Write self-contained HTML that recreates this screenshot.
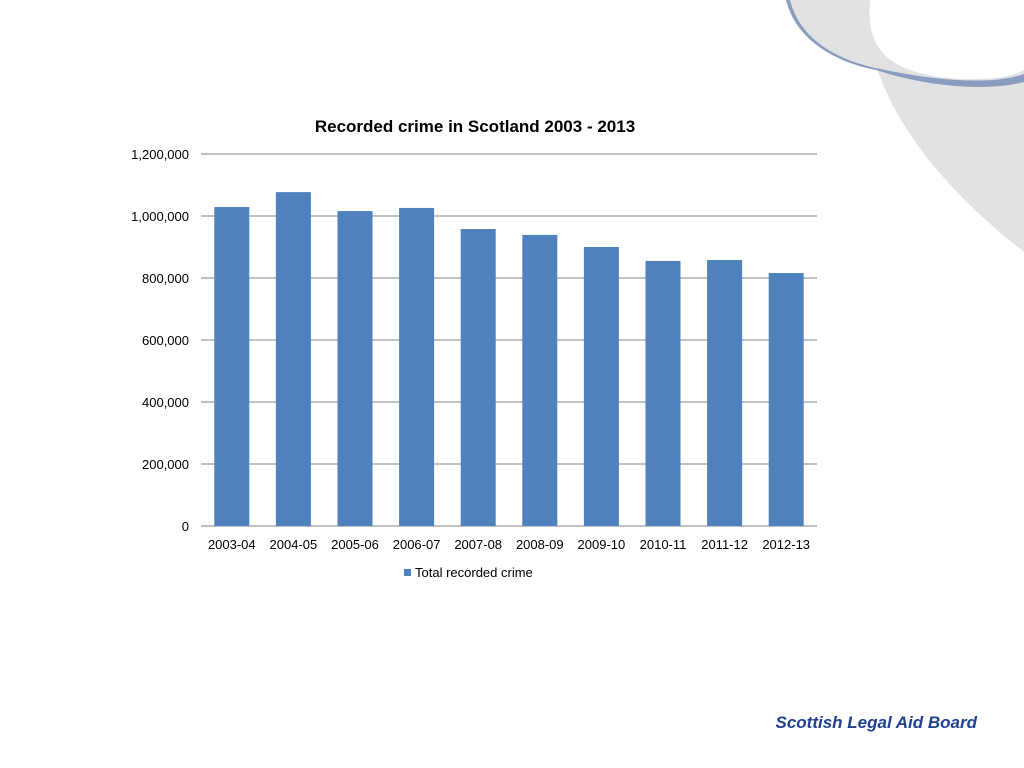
<!DOCTYPE html>
<html><head><meta charset="utf-8"><style>
body{margin:0;width:1024px;height:768px;background:#fff;overflow:hidden;font-family:"Liberation Sans",sans-serif;}
svg{position:absolute;left:0;top:0}
</style></head><body>
<svg width="1024" height="768">
<g>
<path d="M868,0 C862,85 925,175 1024,252 L1024,0 Z" fill="#e2e2e2"/>
<path d="M788,0 C800,42 840,62 878,68 L870,0 Z" fill="#e2e2e2"/>
<path d="M870,0 C866,48 885,74 960,79 Q1008,80 1024,70 L1024,0 Z" fill="#fff"/>
<path d="M790,0 C800,40 838,60 876,68 C930,80 990,86 1024,74 L1024,82 C985,92 925,86 876,70 C835,62 796,40 786,0 Z" fill="#8a9cbf"/>
</g>
<text x="475" y="132" text-anchor="middle" font-size="17" font-weight="bold" fill="#000">Recorded crime in Scotland 2003 - 2013</text>
<g id="grid"></g><g id="bars"></g><g id="xl"></g>
<g>
<rect x="404" y="569" width="7" height="7" fill="#4f81bd"/>
<text x="415" y="577" font-size="13" fill="#000">Total recorded crime</text>
</g>
<text x="977" y="728" text-anchor="end" font-size="17" font-weight="bold" font-style="italic" fill="#1f3f8f">Scottish Legal Aid Board</text>
</svg>
<script>
const categories=["2003-04","2004-05","2005-06","2006-07","2007-08","2008-09","2009-10","2010-11","2011-12","2012-13"];
const values=[1029000,1077000,1016000,1026000,958000,939000,900000,855000,858000,816000];
const ticks=[0,200000,400000,600000,800000,1000000,1200000];
const tickLabels=["0","200,000","400,000","600,000","800,000","1,000,000","1,200,000"];
const NS="http://www.w3.org/2000/svg";
const x0=201,x1=817,y0=526,yTop=154,maxV=1200000;
const y=v=>y0-(v/maxV)*(y0-yTop);
const bw=(x1-x0)/categories.length;
function mk(t,a,p){const e=document.createElementNS(NS,t);for(const k in a)e.setAttribute(k,a[k]);p.appendChild(e);return e;}
const g=document.getElementById('grid');
ticks.forEach((v,i)=>{
 const l=mk('line',{x1:x0,x2:x1,y1:y(v),y2:y(v),stroke:'#868686','stroke-width':1},g);
 
 
 const t=mk('text',{x:189,y:y(v)+5,'text-anchor':'end','font-size':13,fill:'#000'},g);
 t.textContent=tickLabels[i];
 
 
});
const b=document.getElementById('bars'),xl=document.getElementById('xl');
categories.forEach((c,i)=>{
 const cx=x0+bw*(i+0.5);
 const r=mk('rect',{x:cx-17.5,y:y(values[i]),width:35,height:y0-y(values[i]),fill:'#4f81bd'},b);
 
 
 const t=mk('text',{x:cx,y:549,'text-anchor':'middle','font-size':13,fill:'#000'},xl);
 t.textContent=c;
 
 
});
</script>
</body></html>
